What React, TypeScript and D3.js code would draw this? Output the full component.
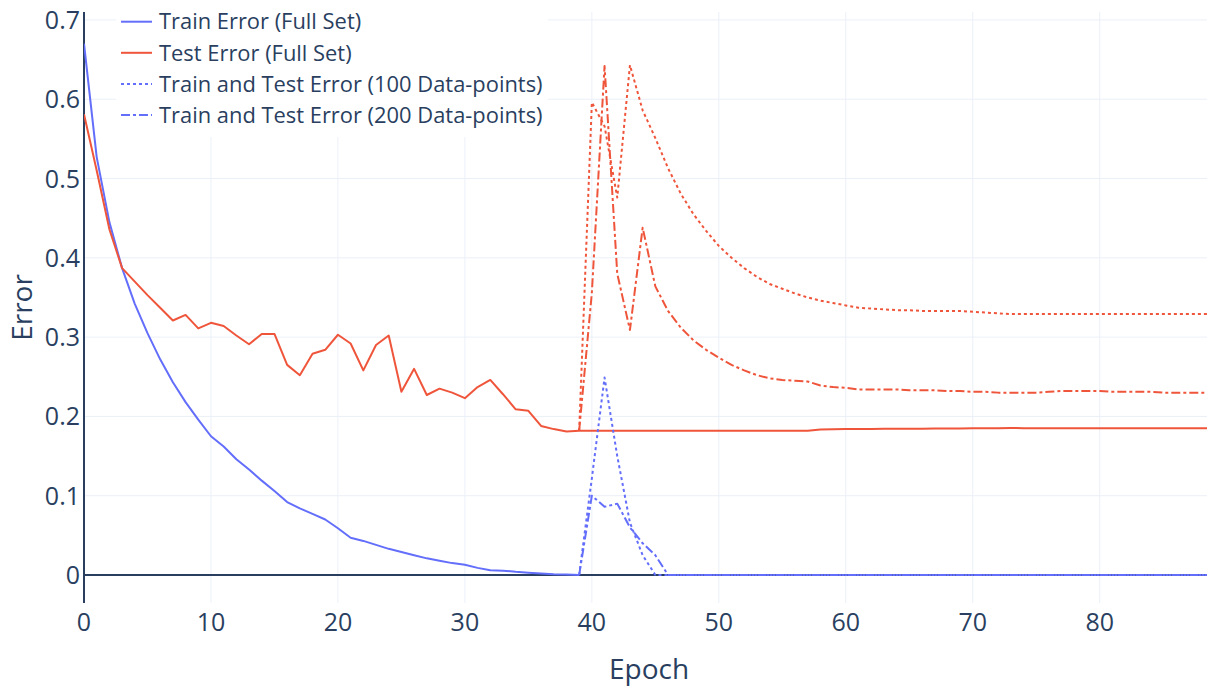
import React from "react";
import * as d3 from "d3";

// ---- data ----
const trainEpochs = d3.range(0, 40);
const trainFull = [
  0.670, 0.527, 0.445, 0.387, 0.342, 0.305, 0.272, 0.243, 0.218, 0.196,
  0.175, 0.162, 0.146, 0.133, 0.119, 0.106, 0.092, 0.084, 0.077, 0.070,
  0.059, 0.047, 0.043, 0.038, 0.033, 0.029, 0.025, 0.021, 0.018, 0.015,
  0.013, 0.009, 0.006, 0.0055, 0.004, 0.003, 0.002, 0.001, 0.0005, 0.0,
];

const testEpochs = d3.range(0, 90);
const testFull = [
  0.581, 0.510, 0.436, 0.387, 0.370, 0.353, 0.337, 0.321, 0.328, 0.311,
  0.318, 0.314, 0.302, 0.291, 0.304, 0.304, 0.265, 0.252, 0.279, 0.284,
  0.303, 0.292, 0.258, 0.290, 0.302, 0.231, 0.260, 0.227, 0.235, 0.230,
  0.223, 0.237, 0.246, 0.228, 0.209, 0.207, 0.188, 0.184, 0.181, 0.182,
  0.182, 0.182, 0.182, 0.182, 0.182, 0.182, 0.182, 0.182, 0.182, 0.182,
  0.182, 0.182, 0.182, 0.182, 0.182, 0.182, 0.182, 0.182, 0.1836, 0.1838,
  0.184, 0.1841, 0.1842, 0.1843, 0.1844, 0.1845, 0.1846, 0.1847, 0.1848, 0.1849,
  0.185, 0.1851, 0.1852, 0.1853, 0.1852, 0.185, 0.185, 0.185, 0.185, 0.185,
  0.185, 0.185, 0.185, 0.185, 0.185, 0.185, 0.185, 0.185, 0.185, 0.185,
];

const subsetEpochs = d3.range(39, 90);
const train100 = [
  0, 0.122, 0.249, 0.150, 0.066, 0.025, 0, 0, 0, 0,
  0, 0, 0, 0, 0, 0, 0, 0, 0, 0,
  0, 0, 0, 0, 0, 0, 0, 0, 0, 0,
  0, 0, 0, 0, 0, 0, 0, 0, 0, 0,
  0, 0, 0, 0, 0, 0, 0, 0, 0, 0, 0,
];
const test100 = [
  0.182, 0.596, 0.566, 0.476, 0.643, 0.586, 0.551, 0.513, 0.481, 0.455,
  0.434, 0.415, 0.400, 0.387, 0.376, 0.367, 0.361, 0.355, 0.350, 0.346,
  0.343, 0.340, 0.337, 0.336, 0.335, 0.334, 0.334, 0.333, 0.333, 0.333,
  0.333, 0.332, 0.331, 0.330, 0.329, 0.329, 0.329, 0.329, 0.329, 0.329,
  0.329, 0.329, 0.329, 0.329, 0.329, 0.329, 0.329, 0.329, 0.329, 0.329, 0.329,
];
const train200 = [
  0, 0.100, 0.086, 0.090, 0.060, 0.040, 0.025, 0, 0, 0,
  0, 0, 0, 0, 0, 0, 0, 0, 0, 0,
  0, 0, 0, 0, 0, 0, 0, 0, 0, 0,
  0, 0, 0, 0, 0, 0, 0, 0, 0, 0,
  0, 0, 0, 0, 0, 0, 0, 0, 0, 0, 0,
];
const test200 = [
  0.182, 0.356, 0.642, 0.380, 0.309, 0.438, 0.364, 0.333, 0.312, 0.296,
  0.284, 0.274, 0.265, 0.258, 0.252, 0.248, 0.246, 0.245, 0.244, 0.239,
  0.237, 0.236, 0.234, 0.234, 0.234, 0.234, 0.233, 0.233, 0.233, 0.232,
  0.232, 0.231, 0.231, 0.230, 0.230, 0.230, 0.230, 0.231, 0.232, 0.232,
  0.232, 0.232, 0.231, 0.231, 0.231, 0.231, 0.230, 0.230, 0.230, 0.230, 0.230,
];

const xTicks = [0, 10, 20, 30, 40, 50, 60, 70, 80];
const yTicks = [0, 0.1, 0.2, 0.3, 0.4, 0.5, 0.6, 0.7];
const legendLabels = [
  "Train Error (Full Set)",
  "Test Error (Full Set)",
  "Train and Test Error (100 Data-points)",
  "Train and Test Error (200 Data-points)",
];

const BLUE = "#636efa";
const RED = "#EF553B";
const INK = "#2a3f5f";
const GRID = "#EBF0F8";
const FONT = "'Open Sans', sans-serif";

const W = 1207;
const H = 686;
const L = 84;
const R = 1207;
const T = 12;
const B = 603;

export default function App() {
  const x = d3.scaleLinear().domain([0, 88.45]).range([L, R]);
  const y = d3.scaleLinear().domain([-0.0353, 0.71]).range([B, T]);
  const line = (xs: number[], ys: number[]) =>
    d3
      .line<number>()
      .x((_, i) => x(xs[i]))
      .y((d) => y(d))(ys) || "";

  const series = [
    { xs: trainEpochs, ys: trainFull, color: BLUE, dash: undefined },
    { xs: testEpochs, ys: testFull, color: RED, dash: undefined },
    { xs: subsetEpochs, ys: train100, color: BLUE, dash: "3,3" },
    { xs: subsetEpochs, ys: test100, color: RED, dash: "3,3" },
    { xs: subsetEpochs, ys: train200, color: BLUE, dash: "9,3,3,3" },
    { xs: subsetEpochs, ys: test200, color: RED, dash: "9,3,3,3" },
  ];
  const legendItems = [
    { label: legendLabels[0], color: BLUE, dash: undefined },
    { label: legendLabels[1], color: RED, dash: undefined },
    { label: legendLabels[2], color: BLUE, dash: "3,3" },
    { label: legendLabels[3], color: BLUE, dash: "9,3,3,3" },
  ];

  return (
    <div style={{ position: "fixed", left: 0, top: 0 }}>
      <svg width={W} height={H} style={{ display: "block", background: "#fff" }} fontFamily={FONT}>
        <defs>
          <clipPath id="plotclip">
            <rect x={L} y={T} width={R - L} height={B - T} />
          </clipPath>
        </defs>
        {/* grid */}
        {xTicks.filter((t) => t !== 0).map((t) => (
          <line key={"gx" + t} x1={x(t)} x2={x(t)} y1={T} y2={B} stroke={GRID} strokeWidth={1} />
        ))}
        {yTicks.filter((t) => t !== 0).map((t) => (
          <line key={"gy" + t} x1={L} x2={R} y1={y(t)} y2={y(t)} stroke={GRID} strokeWidth={1} />
        ))}
        {/* zero lines */}
        <line x1={L} x2={R} y1={y(0)} y2={y(0)} stroke={INK} strokeWidth={2} />
        <line x1={x(0)} x2={x(0)} y1={T} y2={B} stroke={INK} strokeWidth={2} />
        {/* traces */}
        <g clipPath="url(#plotclip)">
          {series.map((s, i) => (
            <path
              key={i}
              d={line(s.xs, s.ys)}
              fill="none"
              stroke={s.color}
              strokeWidth={2}
              strokeDasharray={s.dash}
              strokeLinejoin="round"
            />
          ))}
        </g>
        {/* tick labels */}
        {xTicks.map((t) => (
          <text key={"tx" + t} x={x(t)} y={631} textAnchor="middle" fontSize={25} fill={INK}>
            {t}
          </text>
        ))}
        {yTicks.map((t) => (
          <text key={"ty" + t} x={80} y={y(t) + 9} textAnchor="end" fontSize={25} fill={INK}>
            {t === 0 ? "0" : t.toFixed(1)}
          </text>
        ))}
        {/* axis titles */}
        <text x={649} y={679} textAnchor="middle" fontSize={28} fill={INK}>
          Epoch
        </text>
        <text
          transform={`translate(32, ${(T + B) / 2}) rotate(-90)`}
          textAnchor="middle"
          fontSize={28}
          fill={INK}
        >
          Error
        </text>
        {/* legend */}
        <rect x={116} y={0} width={432} height={137} fill="#fff" />
        {legendItems.map((it, i) => {
          const cy = 21.7 + i * 31.1;
          return (
            <g key={"lg" + i}>
              <line x1={121} x2={152} y1={cy} y2={cy} stroke={it.color} strokeWidth={2} strokeDasharray={it.dash} />
              <text x={159} y={cy + 7.7} fontSize={21.9} fill={INK}>
                {it.label}
              </text>
            </g>
          );
        })}
      </svg>
    </div>
  );
}
